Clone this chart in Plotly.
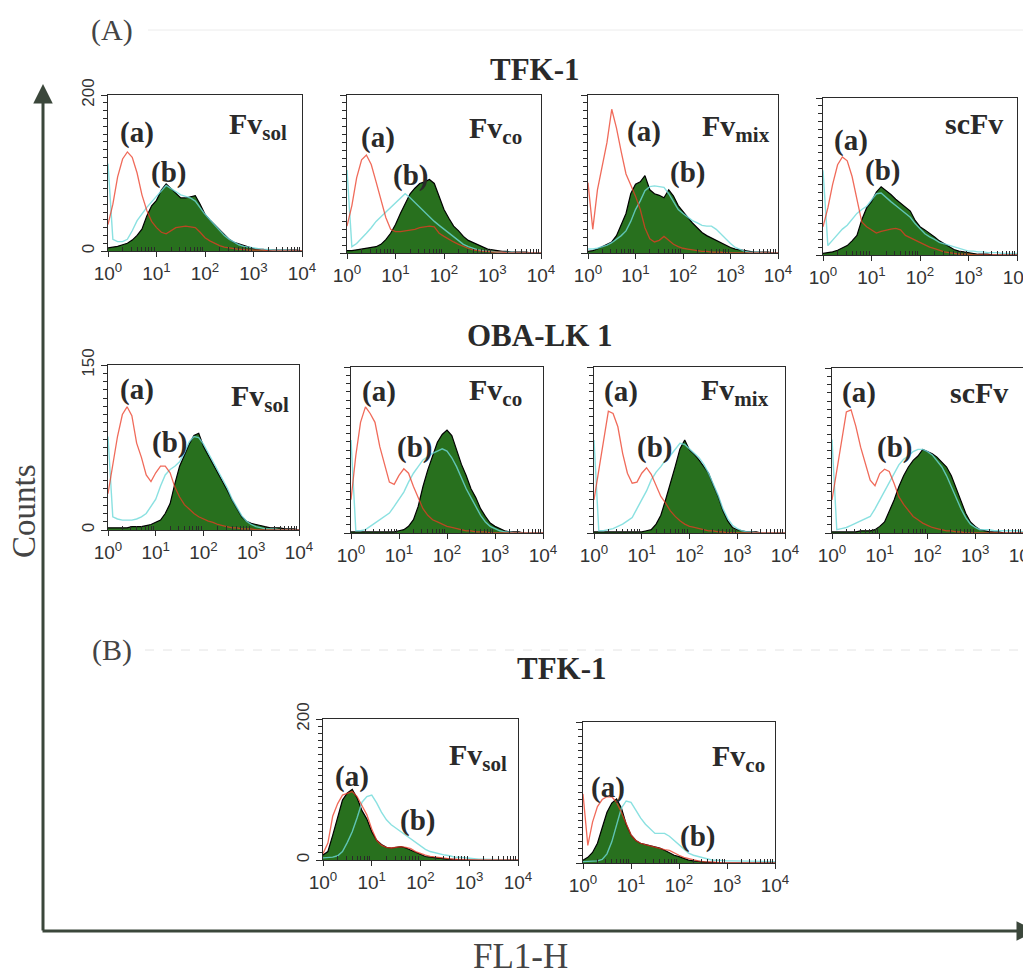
import plotly.graph_objects as go

W, H = 1031, 975
PAGE_OFFSET = 8  # default page margin around the figure in the browser

# ---------------- data ----------------
# FL1-H channel values (log-spaced bins, 10 per decade)
FL1 = [1.0, 1.26, 1.58, 2.0, 2.51, 3.16, 3.98, 5.01, 6.31, 7.94,
       10.0, 12.6, 15.8, 20.0, 25.1, 31.6, 39.8, 50.1, 63.1, 79.4,
       100, 126, 158, 200, 251, 316, 398, 501, 631, 794,
       1000, 1259, 1585, 1995, 2512, 3162, 3981, 5012, 6310, 7943, 10000]

X_TICK_VALS = [1, 10, 100, 1000, 10000]
X_TICK_TEXT = ["10<sup>0</sup>", "10<sup>1</sup>", "10<sup>2</sup>", "10<sup>3</sup>", "10<sup>4</sup>"]

# (A) TFK-1
TFK_SOL_A = [34, 60, 95, 118, 127, 120, 100, 72, 52, 38, 30, 24, 22, 26, 30, 31, 32, 31, 30, 24,
             17, 13, 10, 7, 5, 4, 3, 2, 2, 1, 1, 1, 1, 0, 0, 0, 0, 0, 0, 0, 0]
TFK_SOL_B = [112, 15, 12, 12, 15, 26, 39, 48, 56, 63, 70, 78, 84, 80, 76, 72, 70, 68, 64, 55,
             47, 40, 33, 26, 20, 15, 11, 8, 6, 5, 4, 3, 2, 2, 1, 1, 1, 1, 0, 0, 0]
TFK_SOL_S = [4, 5, 6, 8, 10, 14, 20, 28, 45, 58, 65, 78, 86, 80, 74, 68, 68, 70, 71, 60,
             47, 40, 34, 27, 21, 15, 11, 9, 6, 4, 3, 2, 2, 1, 1, 1, 1, 1, 1, 1, 0]

TFK_CO_A = [34, 60, 95, 118, 124, 112, 90, 68, 45, 30, 27, 27, 28, 29, 30, 32, 33, 34, 33, 25,
            21, 17, 14, 11, 8, 6, 4, 3, 2, 2, 1, 1, 1, 0, 0, 0, 0, 0, 0, 0, 0]
TFK_CO_B = [105, 8, 12, 18, 25, 32, 40, 46, 52, 58, 64, 70, 75, 70, 64, 58, 52, 46, 40, 35,
            30, 25, 20, 15, 11, 8, 6, 4, 3, 2, 2, 1, 1, 1, 1, 0, 0, 0, 0, 0, 0]
TFK_CO_S = [3, 3, 4, 5, 6, 7, 8, 11, 17, 25, 36, 50, 63, 75, 82, 88, 90, 93, 88, 72,
            55, 44, 34, 28, 21, 16, 13, 10, 7, 5, 4, 3, 2, 2, 1, 1, 1, 1, 0, 0, 0]

TFK_MIX_A = [89, 30, 80, 110, 140, 182, 158, 128, 100, 86, 72, 55, 32, 18, 14, 16, 21, 16, 11, 8,
             6, 5, 4, 3, 2, 2, 1, 1, 1, 0, 0, 0, 0, 0, 0, 0, 0, 0, 0, 0, 0]
TFK_MIX_B = [5, 5, 6, 8, 10, 13, 17, 22, 28, 40, 55, 66, 79, 84, 85, 84, 83, 75, 64, 55,
             50, 45, 41, 38, 35, 34, 34, 30, 24, 17, 12, 7, 4, 2, 1, 1, 1, 0, 0, 0, 0]
TFK_MIX_S = [2, 3, 5, 8, 11, 14, 22, 35, 50, 75, 87, 90, 98, 80, 75, 73, 70, 80, 72, 60,
             52, 45, 38, 32, 26, 22, 19, 16, 12, 9, 7, 5, 4, 3, 2, 1, 1, 1, 1, 0, 0]

TFK_SC_A = [36, 60, 90, 115, 125, 120, 100, 70, 42, 36, 32, 28, 30, 32, 33, 34, 32, 25, 22, 18,
            16, 13, 10, 8, 6, 4, 3, 2, 1, 1, 1, 0, 0, 0, 0, 0, 0, 0, 0, 0, 0]
TFK_SC_B = [108, 12, 19, 26, 33, 38, 45, 53, 58, 62, 70, 78, 79, 74, 68, 63, 58, 54, 48, 40,
            33, 27, 23, 20, 16, 14, 12, 10, 8, 6, 5, 5, 4, 4, 3, 3, 3, 2, 2, 2, 2]
TFK_SC_S = [2, 3, 4, 6, 9, 12, 18, 25, 45, 60, 68, 80, 87, 82, 77, 71, 66, 61, 56, 44,
            36, 32, 28, 23, 18, 14, 11, 7, 5, 4, 3, 2, 1, 1, 1, 0, 0, 0, 0, 0, 0]

# (A) OBA-LK 1
OBA_SOL_A = [33, 60, 85, 105, 112, 104, 79, 66, 50, 44, 52, 58, 58, 52, 39, 30, 23, 19, 15, 12,
             10, 8, 7, 5, 4, 3, 2, 2, 1, 1, 1, 0, 0, 0, 0, 0, 0, 0, 0, 0, 0]
OBA_SOL_B = [85, 12, 10, 9, 9, 9, 10, 12, 15, 21, 28, 40, 50, 55, 58, 62, 70, 80, 85, 84,
             78, 70, 62, 54, 46, 38, 28, 20, 13, 8, 5, 3, 2, 1, 1, 1, 0, 0, 0, 0, 0]
OBA_SOL_S = [2, 2, 2, 2, 2, 3, 3, 3, 4, 5, 7, 9, 15, 24, 42, 58, 68, 78, 86, 88,
             76, 68, 61, 53, 45, 36, 27, 19, 12, 8, 6, 5, 4, 3, 2, 2, 2, 1, 1, 1, 0]

OBA_CO_A = [30, 70, 100, 114, 108, 100, 78, 62, 46, 44, 52, 58, 54, 42, 32, 22, 16, 12, 10, 8,
            6, 5, 4, 3, 2, 2, 1, 1, 1, 0, 0, 0, 0, 0, 0, 0, 0, 0, 0, 0, 0]
OBA_CO_B = [84, 2, 2, 3, 6, 9, 12, 15, 18, 24, 31, 37, 46, 54, 60, 66, 69, 72, 74, 76,
            74, 68, 60, 50, 40, 32, 24, 16, 10, 6, 4, 2, 1, 1, 0, 0, 0, 0, 0, 0, 0]
OBA_CO_S = [1, 1, 1, 1, 1, 1, 1, 1, 1, 1, 2, 3, 6, 12, 24, 42, 57, 70, 82, 89,
            93, 88, 76, 62, 52, 40, 32, 22, 15, 9, 6, 4, 2, 1, 1, 1, 0, 0, 0, 0, 0]

OBA_MIX_A = [30, 58, 84, 110, 108, 96, 72, 54, 45, 46, 54, 59, 53, 42, 33, 27, 20, 15, 11, 8,
             6, 5, 4, 3, 2, 2, 1, 1, 0, 0, 0, 0, 0, 0, 0, 0, 0, 0, 0, 0, 0]
OBA_MIX_B = [84, 2, 2, 3, 4, 6, 8, 11, 14, 22, 30, 38, 48, 55, 60, 66, 70, 75, 81, 80,
             76, 72, 68, 62, 54, 44, 34, 22, 13, 7, 4, 2, 1, 1, 0, 0, 0, 0, 0, 0, 0]
OBA_MIX_S = [1, 1, 1, 1, 1, 1, 1, 1, 1, 1, 1, 2, 3, 8, 16, 30, 44, 60, 76, 84,
             75, 71, 66, 60, 54, 43, 33, 20, 11, 5, 3, 2, 1, 1, 1, 0, 0, 0, 0, 0, 0]

OBA_SC_A = [30, 58, 85, 110, 112, 97, 78, 62, 48, 43, 54, 58, 56, 45, 33, 26, 20, 15, 12, 9,
            7, 5, 4, 3, 2, 2, 1, 1, 0, 0, 0, 0, 0, 0, 0, 0, 0, 0, 0, 0, 0]
OBA_SC_B = [85, 3, 4, 5, 7, 9, 11, 13, 15, 22, 30, 38, 46, 55, 62, 67, 70, 74, 76, 76,
            74, 71, 66, 60, 52, 42, 32, 22, 14, 8, 5, 3, 3, 3, 2, 2, 2, 2, 2, 2, 1]
OBA_SC_S = [1, 1, 1, 1, 1, 1, 2, 2, 2, 3, 6, 10, 20, 30, 42, 52, 60, 66, 70, 76,
            74, 72, 69, 64, 60, 52, 40, 28, 18, 10, 6, 3, 2, 1, 1, 1, 0, 0, 0, 0, 0]

# (B) TFK-1
B_SOL_A = [9, 24, 62, 80, 92, 95, 97, 90, 76, 64, 44, 28, 21, 18, 17, 18, 19, 18, 16, 12,
           9, 7, 5, 4, 3, 2, 2, 1, 1, 0, 0, 0, 0, 0, 0, 0, 0, 0, 0, 0, 0]
B_SOL_B = [3, 3, 4, 6, 12, 25, 40, 60, 82, 90, 92, 81, 68, 57, 50, 45, 40, 34, 29, 25,
           20, 15, 12, 10, 8, 7, 6, 4, 4, 3, 2, 2, 1, 1, 1, 0, 0, 0, 0, 0, 0]
B_SOL_S = [7, 12, 35, 62, 85, 95, 100, 88, 70, 58, 40, 28, 22, 18, 17, 18, 19, 17, 14, 10,
           7, 5, 4, 3, 3, 2, 1, 1, 0, 0, 0, 0, 0, 0, 0, 0, 0, 0, 0, 0, 0]

B_CO_A = [98, 25, 58, 80, 90, 94, 94, 86, 72, 56, 40, 32, 28, 26, 24, 23, 21, 19, 18, 14,
          11, 8, 6, 4, 3, 2, 2, 1, 1, 0, 0, 0, 0, 0, 0, 0, 0, 0, 0, 0, 0]
B_CO_B = [2, 2, 3, 3, 5, 13, 30, 56, 78, 88, 86, 75, 64, 55, 48, 42, 42, 42, 38, 32,
          26, 19, 14, 11, 9, 7, 5, 4, 4, 3, 3, 3, 3, 2, 2, 2, 2, 2, 2, 2, 2]
B_CO_S = [4, 8, 15, 28, 50, 72, 85, 91, 78, 55, 40, 32, 28, 26, 25, 23, 21, 18, 14, 11,
          9, 6, 4, 3, 2, 2, 1, 1, 0, 0, 0, 0, 0, 0, 0, 0, 0, 0, 0, 0, 0]

Y_MAX = [200, 150, 200]
SAMPLE_NAMES = ["Fv<sub>sol</sub>", "Fv<sub>co</sub>", "Fv<sub>mix</sub>", "scFv"]

# ---------------- layout spec ----------------
PANELS = [
    (TFK_SOL_A, TFK_SOL_B, TFK_SOL_S, Y_MAX[0], SAMPLE_NAMES[0], (108, 302, 95, 251), True,
     (137, 133), (168, 172), (258, 126)),
    (TFK_CO_A, TFK_CO_B, TFK_CO_S, Y_MAX[0], SAMPLE_NAMES[1], (347, 541, 95, 253), False,
     (378, 138), (410, 175), (495, 130)),
    (TFK_MIX_A, TFK_MIX_B, TFK_MIX_S, Y_MAX[0], SAMPLE_NAMES[2], (588, 778, 95, 253), False,
     (644, 131), (687, 172), (736, 128)),
    (TFK_SC_A, TFK_SC_B, TFK_SC_S, Y_MAX[0], SAMPLE_NAMES[3], (823, 1017, 98, 255), False,
     (851, 141), (882, 171), (974, 124)),
    (OBA_SOL_A, OBA_SOL_B, OBA_SOL_S, Y_MAX[1], SAMPLE_NAMES[0], (108, 299, 365, 530), True,
     (137, 389), (169, 443), (260, 398)),
    (OBA_CO_A, OBA_CO_B, OBA_CO_S, Y_MAX[1], SAMPLE_NAMES[1], (351, 543, 367, 533), False,
     (379, 391), (414, 448), (495, 392)),
    (OBA_MIX_A, OBA_MIX_B, OBA_MIX_S, Y_MAX[1], SAMPLE_NAMES[2], (594, 785, 367, 533), False,
     (621, 391), (654, 448), (735, 392)),
    (OBA_SC_A, OBA_SC_B, OBA_SC_S, Y_MAX[1], SAMPLE_NAMES[3], (832, 1023, 368, 533), False,
     (859, 393), (894, 448), (979, 393)),
    (B_SOL_A, B_SOL_B, B_SOL_S, Y_MAX[2], SAMPLE_NAMES[0], (323, 518, 719, 860), True,
     (352, 776), (417, 820), (478, 757)),
    (B_CO_A, B_CO_B, B_CO_S, Y_MAX[2], SAMPLE_NAMES[1], (583, 775, 722, 863), False,
     (608, 787), (697, 836), (738, 758)),
]

GREEN = "rgb(40,112,30)"
RED = "rgb(236,58,36)"
CYAN = "rgb(110,218,218)"
FRAME = "#2b2b2b"
AXIS = "#3b473b"
SERIF = "Liberation Serif, Times New Roman, serif"
SANS = "Liberation Sans, Arial, sans-serif"


def px(x):
    return (x - PAGE_OFFSET) / W


def py(y):
    return 1 - (y - PAGE_OFFSET) / H


MINOR_X = [m * 10 ** d for d in range(4) for m in range(2, 10)]

fig = go.Figure()
layout = dict(
    width=W, height=H, autosize=False,
    margin=dict(l=0, r=0, t=0, b=0, pad=0),
    paper_bgcolor="white", plot_bgcolor="white",
    showlegend=False,
)
annotations = []
shapes = []

for i, (a, b, s, ymax, name, box, ylab, apos, bpos, npos) in enumerate(PANELS, start=1):
    xa = "x" if i == 1 else f"x{i}"
    ya = "y" if i == 1 else f"y{i}"
    fig.add_trace(go.Scatter(x=FL1, y=s, mode="lines", fill="tozeroy", fillcolor=GREEN,
                             line=dict(color="black", width=1.2), xaxis=xa, yaxis=ya,
                             hoverinfo="skip"))
    fig.add_trace(go.Scatter(x=FL1, y=b, mode="lines", line=dict(color=CYAN, width=1.4),
                             opacity=0.8, xaxis=xa, yaxis=ya, hoverinfo="skip"))
    fig.add_trace(go.Scatter(x=FL1, y=a, mode="lines", line=dict(color=RED, width=1.3),
                             opacity=0.75, xaxis=xa, yaxis=ya, hoverinfo="skip"))
    x0, x1, yt, yb = box
    layout["xaxis" if i == 1 else f"xaxis{i}"] = dict(
        type="log", range=[0, 4], domain=[px(x0), px(x1)], anchor=ya, automargin=False,
        showline=True, mirror=True, linecolor=FRAME, linewidth=1.3,
        showgrid=False, zeroline=False,
        ticks="outside", ticklen=5, tickcolor=FRAME, tickwidth=1.3,
        tickvals=X_TICK_VALS, ticktext=X_TICK_TEXT,
        tickfont=dict(family=SANS, size=19, color="#333"),
        minor=dict(tickvals=MINOR_X, ticks="inside", ticklen=4, tickcolor=FRAME,
                   showgrid=False),
    )
    step = 10 if ymax == 200 else 7.5
    layout["yaxis" if i == 1 else f"yaxis{i}"] = dict(
        range=[0, ymax], domain=[py(yb), py(yt)], anchor=xa, automargin=False,
        showline=True, mirror=True, linecolor=FRAME, linewidth=1.3,
        showgrid=False, zeroline=False,
        ticks="outside", ticklen=6, tickcolor=FRAME, tickwidth=1.3,
        tickvals=[0, ymax], ticktext=["0", str(ymax)], showticklabels=ylab,
        tickangle=-90, tickfont=dict(family=SANS, size=17, color="#333"),
        minor=dict(tickvals=[k * step for k in range(int(ymax / step) + 1)], ticks="outside",
                   ticklen=4, tickcolor=FRAME, showgrid=False),
    )
    for txt, pos, size in (("(a)", apos, 29), ("(b)", bpos, 29), (name, npos, 30)):
        annotations.append(dict(
            text=f"<b>{txt}</b>", x=px(pos[0]), y=py(pos[1]), xref="paper", yref="paper",
            showarrow=False, xanchor="center", yanchor="middle",
            font=dict(family=SERIF, size=size, color="#2a2a2a")))

# titles and labels
for txt, x, y, size, bold in (("(A)", 112, 30, 30, False), ("(B)", 112, 650, 30, False),
                              ("TFK-1", 535, 70, 31, True), ("OBA-LK 1", 540, 335, 31, True),
                              ("TFK-1", 562, 668, 31, True), ("FL1-H", 520, 956, 35, False)):
    annotations.append(dict(
        text=f"<b>{txt}</b>" if bold else txt, x=px(x), y=py(y), xref="paper", yref="paper",
        showarrow=False, xanchor="center", yanchor="middle",
        font=dict(family=SERIF, size=size, color="#2a2a2a" if bold else "#444")))
annotations.append(dict(
    text="Counts", x=px(24), y=py(511), xref="paper", yref="paper", textangle=-90,
    showarrow=False, xanchor="center", yanchor="middle",
    font=dict(family=SERIF, size=33, color="#444")))

# big axis arrows (pixel offsets for the tails)
annotations.append(dict(
    text="", x=px(43), y=py(84), ax=0, ay=848, xref="paper", yref="paper",
    axref="pixel", ayref="pixel", showarrow=True, arrowhead=2, arrowsize=1.3,
    arrowwidth=3, arrowcolor=AXIS))
annotations.append(dict(
    text="", x=px(1036), y=py(931), ax=-995, ay=0, xref="paper", yref="paper",
    axref="pixel", ayref="pixel", showarrow=True, arrowhead=2, arrowsize=1.3,
    arrowwidth=3, arrowcolor=AXIS))

# faint guide lines next to (A) and (B)
shapes.append(dict(type="line", xref="paper", yref="paper", x0=px(148), x1=1, y0=py(30),
                   y1=py(30), line=dict(color="#ececec", width=1)))
shapes.append(dict(type="line", xref="paper", yref="paper", x0=px(145), x1=1, y0=py(650),
                   y1=py(650), line=dict(color="#e4e4e4", width=1, dash="dash")))

layout["annotations"] = annotations
layout["shapes"] = shapes
fig.update_layout(**layout)
fig.write_html("out.html")
